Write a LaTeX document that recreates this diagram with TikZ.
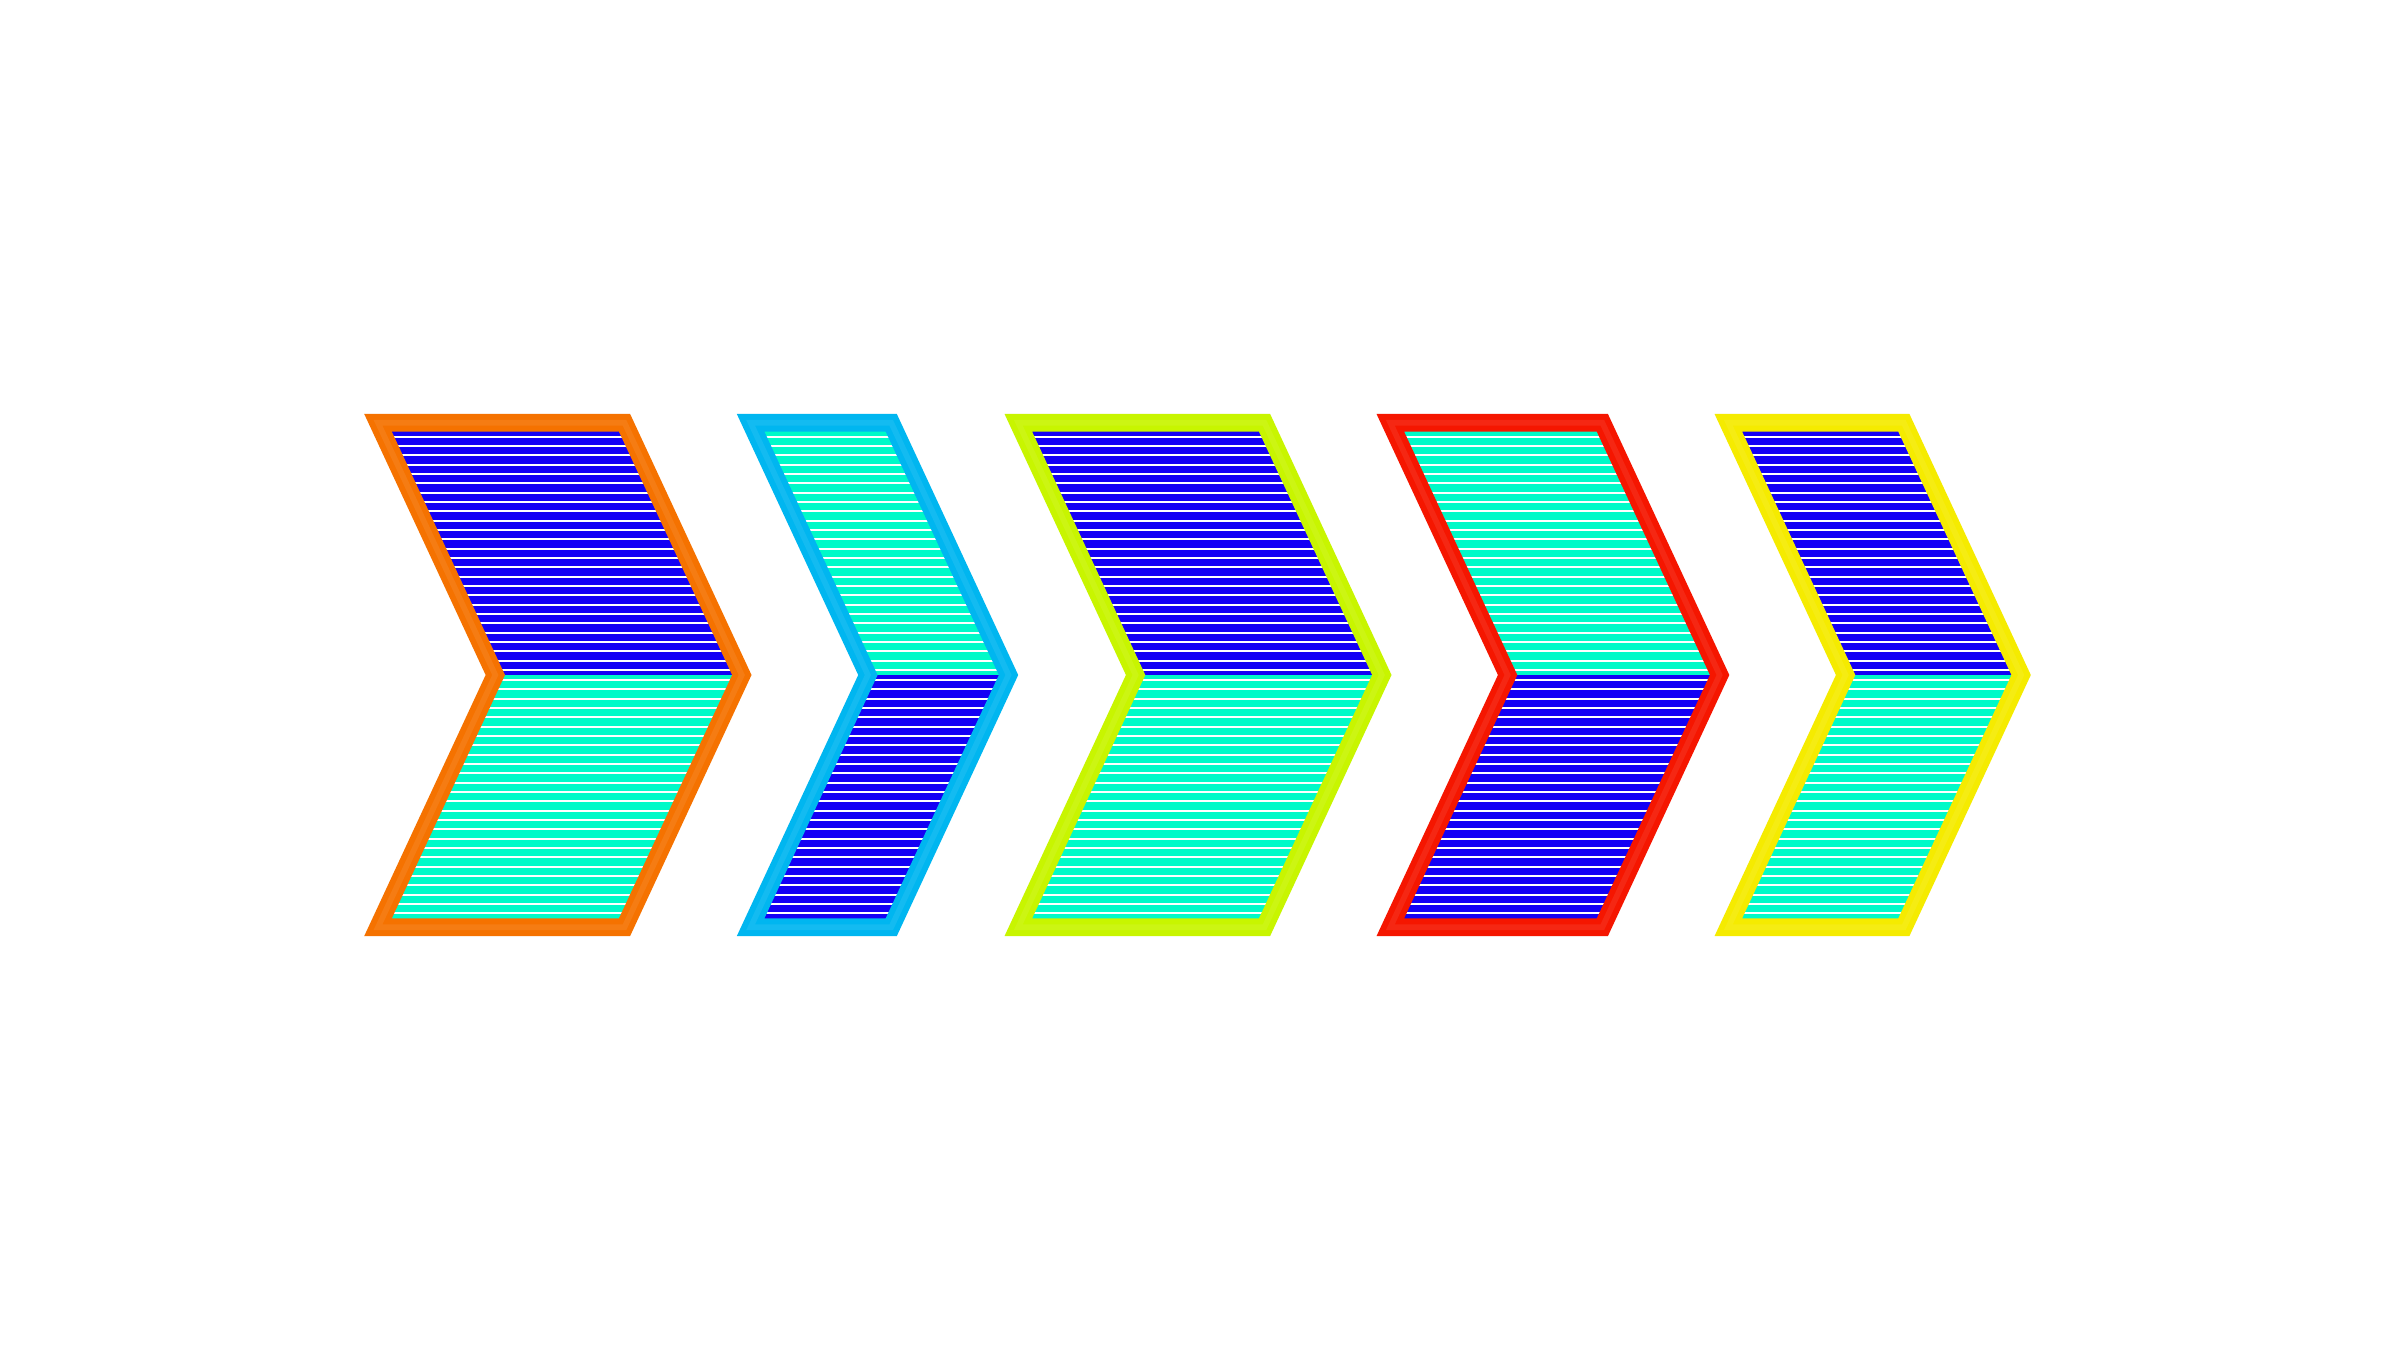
\documentclass[tikz,border=0pt]{standalone}
\usetikzlibrary{positioning}
\definecolor{stripeBlue}{RGB}{20,0,245}
\definecolor{stripeMint}{RGB}{0,250,200}
\definecolor{rimOrange}{RGB}{245,114,0}
\definecolor{rimSky}{RGB}{0,182,240}
\definecolor{rimLime}{RGB}{200,245,0}
\definecolor{rimRed}{RGB}{245,22,0}
\definecolor{rimYellow}{RGB}{245,235,0}
\tikzset{
    pics/chevron/.style args={#1/#2/#3/#4}{code={
		\begin{scope}
			\clip (0,2.5225) -- (#1,2.5225) -- (#1+1.173,0) -- (#1,-2.5225) -- (0,-2.5225) -- (1.173,0) -- cycle;
			\fill[#2] (-0.5,0) rectangle (#1+2,3);
			\fill[#3] (-0.5,0) rectangle (#1+2,-3);
			\foreach \k in {0,...,27}{
				\draw[white, line width=0.55pt] (-0.5,0.051+0.0933*\k) -- (#1+2,0.051+0.0933*\k);
				\draw[white, line width=0.55pt] (-0.5,-0.051-0.0933*\k) -- (#1+2,-0.051-0.0933*\k);
			}
		\end{scope}
		\draw[#4, line width=5pt] (0,2.5225) -- (#1,2.5225) -- (#1+1.173,0) -- (#1,-2.5225) -- (0,-2.5225) -- (1.173,0) -- cycle;
		\draw[#4!75!white, line width=1.6pt, opacity=0.3] (0,2.5225) -- (#1,2.5225) -- (#1+1.173,0) -- (#1,-2.5225) -- (0,-2.5225) -- (1.173,0) -- cycle;
	}}
}

\begin{document}
\begin{tikzpicture}
			\fill[white] (0,0) rectangle (24,13.5);
			\useasboundingbox (0,0) rectangle (24,13.5);
			\pic at (3.78,6.75) {chevron={2.465/stripeBlue/stripeMint/rimOrange}};
			\pic at (7.506,6.75) {chevron={1.406/stripeMint/stripeBlue/rimSky}};
			\pic at (10.183,6.75) {chevron={2.462/stripeBlue/stripeMint/rimLime}};
			\pic at (13.903,6.75) {chevron={2.12/stripeMint/stripeBlue/rimRed}};
			\pic at (17.283,6.75) {chevron={1.755/stripeBlue/stripeMint/rimYellow}};
\end{tikzpicture}
\end{document}
